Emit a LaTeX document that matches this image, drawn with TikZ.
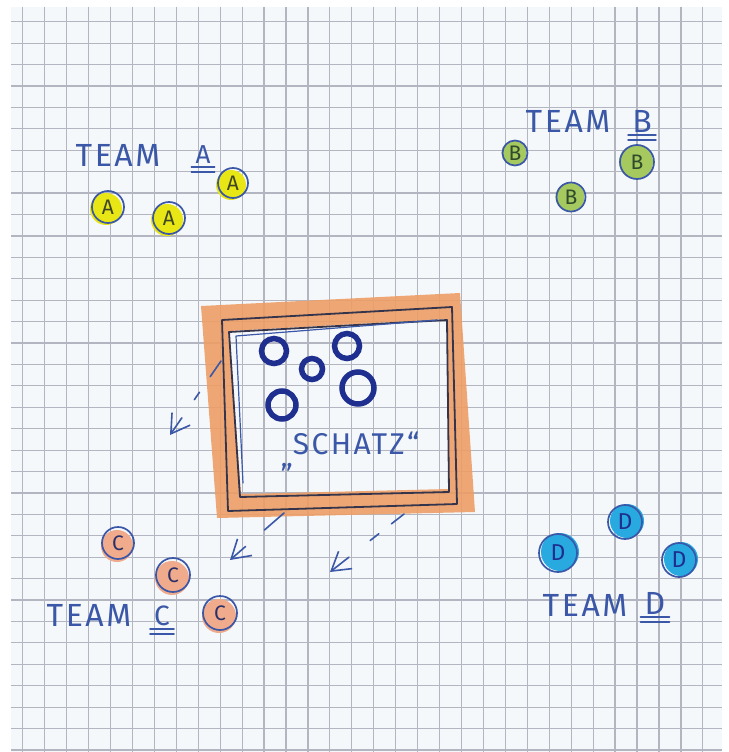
\documentclass[tikz,border=0pt]{standalone}
\usepackage{fontspec}
\usetikzlibrary{arrows.meta}
\newfontfamily\handfont[LetterSpace=8]{Fira Sans}
\definecolor{penblue}{HTML}{3B57A8}
\definecolor{inkolive}{HTML}{3E4622}
\definecolor{inkgreen}{HTML}{2F4A2C}
\definecolor{inknavy}{HTML}{2A3168}
\definecolor{ringblue}{HTML}{1F2F8F}
\definecolor{framedark}{HTML}{34354C}
\definecolor{gridgray}{HTML}{B3B5C0}
\definecolor{paperwhite}{HTML}{F5F8FA}
\definecolor{hlyellow}{HTML}{E8E614}
\definecolor{hlgreen}{HTML}{A5C85F}
\definecolor{hlsalmon}{HTML}{F0AA8C}
\definecolor{hlcyan}{HTML}{28AAE1}
\definecolor{hlorange}{HTML}{EE9C62}
\tikzset{
  gridline/.style={draw=gridgray, line width=1.2pt},
  pen/.style={draw=penblue, line width=1.6pt, line cap=round, line join=round},
  framestroke/.style={draw=framedark, line width=1.8pt, line join=round},
  teamlabel/.style={text=penblue, inner sep=0pt, font=\handfont\fontsize{32}{32}\selectfont},
  teamletter/.style={text=penblue, inner sep=0pt, font=\handfont\fontsize{#1}{#1}\selectfont},
  player/.style={circle, draw=penblue, line width=1.7pt, inner sep=0pt, font=\handfont\fontsize{21}{21}\selectfont},
  playerA/.style={player, text=inkolive, preaction={draw=none, fill=hlyellow, transform canvas={shift={(-2pt,-2pt)}}}},
  playerB/.style={player, text=inkgreen, preaction={draw=none, fill=hlgreen, transform canvas={shift={(-1pt,0pt)}}}},
  playerC/.style={player, text=inknavy, preaction={draw=none, fill=hlsalmon, transform canvas={shift={(-1pt,-3pt)}}}},
  playerD/.style={player, text=ringblue, font=\handfont\fontsize{23}{23}\selectfont, preaction={draw=none, fill=hlcyan, transform canvas={shift={(2pt,1pt)}}}},
  gem/.style={circle, draw=ringblue, line width=5.5pt, inner sep=0pt, minimum size=#1},
  lootarrow/.style={pen, -{Straight Barb[length=18pt,width=22pt]}},
}
\begin{document}
\begin{tikzpicture}[x=1pt,y=-1pt]
  \useasboundingbox (0,0) rectangle (728,752);
  \fill[white] (0,0) rectangle (728,752);
  \fill[paperwhite] (11,7) rectangle (722,752);
  \begin{scope}
    \clip (11,7) rectangle (722,752);
    \foreach \k in {0,...,32} \draw[gridline] ({22.7+21.94*\k},7) -- ++(0,745);
    \foreach \k in {0,...,34} \draw[gridline] (11,{21.7+21.42*\k}) -- ++(711,0);
  \end{scope}

  % treasure box
  \fill[hlorange, fill opacity=0.88, even odd rule]
    (201,306) -- (460,293) -- (475,512) -- (217,518) -- cycle
    (229,331) -- (447,319) -- (449,489) -- (241,494) -- cycle;
  \draw[framestroke] (222,320) -- (452,307) -- (457,504) -- (228,511) -- cycle;
  \draw[framestroke] (229,332) -- (447,320) -- (449,492) -- (240,497) -- cycle;
  \draw[pen, line width=1.2pt] (243,483) -- (236,336) -- (437,320);
  \node[gem=25pt] (gem1) at (274,351) {};
  \node[gem=21pt] (gem2) at (312,369) {};
  \node[gem=25pt] (gem3) at (347,346) {};
  \node[gem=32pt] (gem4) at (358,388) {};
  \node[gem=28pt] (gem5) at (282,405) {};
  \node[teamlabel, font=\handfont\fontsize{30}{30}\selectfont] (schatz) at (350,452) {\raisebox{-12pt}{„}SCHATZ“};

  % teams
  \node[teamlabel] (teamA) at (118,155) {TEAM};
  \node[teamletter=26] (letA) at (203,155) {A};
  \node[teamlabel] (teamB) at (568,121) {TEAM};
  \node[teamletter=32] (letB) at (642,121) {B};
  \node[teamlabel] (teamC) at (89,615) {TEAM};
  \node[teamletter=28] (letC) at (162,616) {C};
  \node[teamlabel] (teamD) at (585,605) {TEAM};
  \node[teamletter=32] (letD) at (655,603) {D};
  \foreach \l in {letA,letB,letC,letD} {
    \draw[pen] ([xshift=-4pt,yshift=-3pt]\l.south west) -- ([xshift=4pt,yshift=-3pt]\l.south east);
    \draw[pen] ([xshift=-4pt,yshift=-8pt]\l.south west) -- ([xshift=4pt,yshift=-8pt]\l.south east);
  }

  \node[playerA, minimum size=32pt] (a1) at (108,207) {A};
  \node[playerA, minimum size=32pt] (a2) at (169,218) {A};
  \node[playerA, minimum size=30pt] (a3) at (233,183) {A};
  \node[playerB, minimum size=25pt] (b1) at (515,153) {B};
  \node[playerB, minimum size=34pt] (b2) at (637,162) {B};
  \node[playerB, minimum size=29pt] (b3) at (571,197) {B};
  \node[playerC, minimum size=32pt] (c1) at (118,543) {C};
  \node[playerC, minimum size=34pt] (c2) at (173,575) {C};
  \node[playerC, minimum size=34pt] (c3) at (220,613) {C};
  \node[playerD, minimum size=38pt] (d1) at (558,553) {D};
  \node[playerD, minimum size=34pt] (d2) at (625,522) {D};
  \node[playerD, minimum size=34pt] (d3) at (679,560) {D};

  % grab arrows
  \coordinate (loot1) at (221,361);
  \coordinate (grab1) at (170,435);
  \coordinate (loot2) at (284,513);
  \coordinate (grab2) at (230,560);
  \coordinate (loot3) at (404,514);
  \coordinate (grab3) at (330,572);
  \draw[lootarrow, dash pattern=on 19pt off 19pt on 9pt off 22pt on 60pt] (loot1) -- (grab1);
  \draw[lootarrow, dash pattern=on 26pt off 25pt on 60pt] (loot2) -- (grab2);
  \draw[lootarrow, dash pattern=on 16pt off 16pt on 11pt off 27pt on 60pt] (loot3) -- (grab3);
\end{tikzpicture}
\end{document}
